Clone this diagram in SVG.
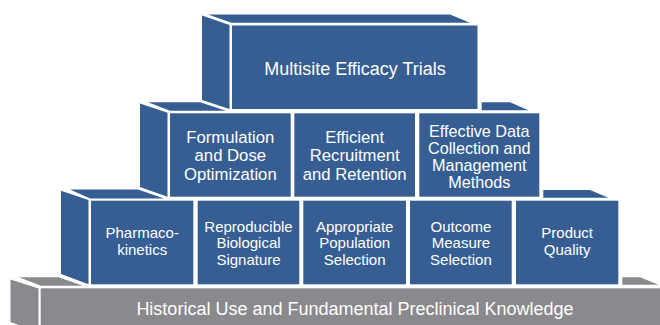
<svg xmlns="http://www.w3.org/2000/svg" width="660" height="325" viewBox="0 0 660 325">
  <style>
    .blue { fill: #365e93; }
    .gray { fill: #8a898d; }
    text { font-family: "Liberation Sans", Arial, Helvetica, sans-serif; fill: #ffffff; text-anchor: middle; }
    .t-top { font-size: 18px; }
    .t-mid { font-size: 16.7px; }
    .t-tight { font-size: 16.2px; }
    .t-low { font-size: 15px; }
    .t-base { font-size: 18px; }
  </style>
  <rect width="660" height="325" fill="#ffffff"/>

  <!-- Foundation slab -->
  <g id="foundation">
    <polygon class="gray" points="10.5,279.5 38.5,288.5 38.5,332 10.5,322"/>
    <polygon class="gray" points="19,277.3 58.5,277.3 83,285.8 41,285.8"/>
    <polygon class="gray" points="622.3,277.3 640,277.3 658.5,284.8 622.3,284.8"/>
    <rect class="gray" x="40.7" y="288.3" width="625" height="40"/>
    <text class="t-base" x="355" y="315">Historical Use and Fundamental Preclinical Knowledge</text>
  </g>

  <!-- Bottom tier: side and top faces -->
  <g id="tier3-frame">
    <polygon class="blue" points="61,190.7 88.5,200 88.5,284.3 61,274"/>
    <polygon class="blue" points="70,189.5 138,189.5 164,198.6 90,198.6"/>
    <polygon class="blue" points="543.3,190 590,190 608.5,197.8 543.3,197.8"/>
  </g>
  <g id="pharmacokinetics">
    <rect class="blue" x="91" y="200.7" width="102.3" height="83.6"/>
    <text class="t-low" x="142.2" y="238.3">Pharmaco-</text>
    <text class="t-low" x="142.2" y="255">kinetics</text>
  </g>
  <g id="signature">
    <rect class="blue" x="197.7" y="200.7" width="101.6" height="83.6"/>
    <text class="t-low" x="248.5" y="231.7">Reproducible</text>
    <text class="t-low" x="248.5" y="248.2">Biological</text>
    <text class="t-low" x="248.5" y="264.6">Signature</text>
  </g>
  <g id="population">
    <rect class="blue" x="303.3" y="200.7" width="102.7" height="83.6"/>
    <text class="t-low" x="354.7" y="231.7">Appropriate</text>
    <text class="t-low" x="354.7" y="248.2">Population</text>
    <text class="t-low" x="354.7" y="264.6">Selection</text>
  </g>
  <g id="outcome">
    <rect class="blue" x="410" y="200.7" width="101.7" height="83.6"/>
    <text class="t-low" x="460.9" y="231.7">Outcome</text>
    <text class="t-low" x="460.9" y="248.2">Measure</text>
    <text class="t-low" x="460.9" y="264.6">Selection</text>
  </g>
  <g id="quality">
    <rect class="blue" x="516" y="200.7" width="102.3" height="83.6"/>
    <text class="t-low" x="567.2" y="238.3">Product</text>
    <text class="t-low" x="567.2" y="255">Quality</text>
  </g>

  <!-- Middle tier: side and top faces -->
  <g id="tier2-frame">
    <polygon class="blue" points="140,103.5 167.5,112.8 167.5,196.7 140,187"/>
    <polygon class="blue" points="148,102.2 200,102.2 226,110.8 170,110.8"/>
    <polygon class="blue" points="481.7,102.3 510,102.3 528.3,110.3 481.7,110.3"/>
  </g>
  <g id="formulation">
    <rect class="blue" x="170" y="113.3" width="120.7" height="83.4"/>
    <text class="t-mid" x="230.3" y="142.7">Formulation</text>
    <text class="t-mid" x="230.3" y="161.2">and Dose</text>
    <text class="t-mid" x="230.3" y="179.7">Optimization</text>
  </g>
  <g id="recruitment">
    <rect class="blue" x="294.3" y="113.3" width="120.7" height="83.4"/>
    <text class="t-mid" x="354.7" y="142.7">Efficient</text>
    <text class="t-mid" x="354.7" y="161.2">Recruitment</text>
    <text class="t-mid" x="354.7" y="179.7">and Retention</text>
  </g>
  <g id="data-methods">
    <rect class="blue" x="419.3" y="113.3" width="120" height="83.4"/>
    <text class="t-tight" x="479.3" y="136.5">Effective Data</text>
    <text class="t-tight" x="479.3" y="153.5">Collection and</text>
    <text class="t-tight" x="479.3" y="170.5">Management</text>
    <text class="t-tight" x="479.3" y="187.5">Methods</text>
  </g>

  <!-- Top tier -->
  <g id="efficacy-trials">
    <polygon class="blue" points="202,15.5 229.5,25 229.5,109 202,100"/>
    <polygon class="blue" points="208,14.5 450,14.5 470,22.7 231.5,22.7"/>
    <rect class="blue" x="232" y="25.5" width="245.5" height="83.5"/>
    <text class="t-top" x="355" y="75">Multisite Efficacy Trials</text>
  </g>

  <!-- No connectors in this figure -->
  <g id="connectors"/>
</svg>
